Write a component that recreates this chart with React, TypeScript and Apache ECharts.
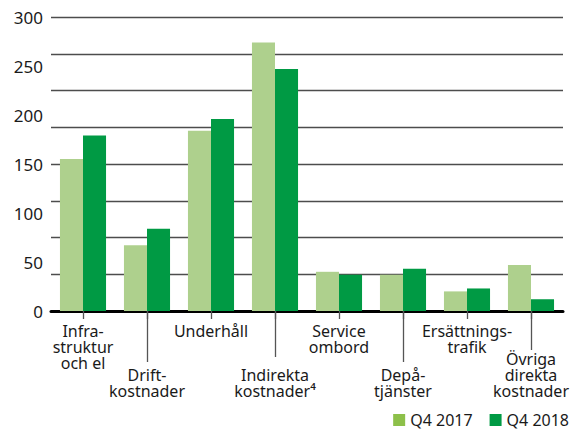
import React, { useEffect, useRef } from "react";
import * as echarts from "echarts";

const categories = [
  "Infra-\nstruktur\noch el",
  "Drift-\nkostnader",
  "Underhåll",
  "Indirekta\nkostnader⁴",
  "Service\nombord",
  "Depå-\ntjänster",
  "Ersättnings-\ntrafik",
  "Övriga\ndirekta\nkostnader",
];
const q2017 = [155, 67, 184, 274, 40, 37, 20, 47];
const q2018 = [179, 84, 196, 247, 37, 43, 23, 12];
const seriesNames = ["Q4 2017", "Q4 2018"];
const yLabelMin = 0;
const yLabelMax = 300;
const yLabelStep = 50;
const gridStep = 37.5;
// leader line lengths for the lower-row labels (index -> length in px)
const leaderIdx = [1, 3, 5, 7];
const leaderLen = [51, 46, 51, 39];

const FONT = "Noto Sans";
const TEXT = "#1a1a1a";
const LIGHT = "#AED08D";
const DARK = "#009A44";
const LEGEND_LIGHT = "#8DC04A";

export default function App() {
  const ref = useRef<HTMLDivElement>(null);
  useEffect(() => {
    if (!ref.current) return;
    const chart = echarts.init(ref.current, undefined, { renderer: "svg" });
    const leaderAxes = leaderIdx.map((idx, k) => ({
      type: "category",
      data: categories,
      position: "bottom",
      axisLine: { show: false },
      axisTick: {
        show: true,
        alignWithLabel: true,
        length: leaderLen[k],
        interval: (i: number) => i === idx,
        lineStyle: { color: "#555", width: 1.3 },
      },
      axisLabel: { show: false },
      splitLine: { show: false },
    }));
    chart.setOption({
      animation: false,
      textStyle: { fontFamily: FONT },
      grid: { left: 51, right: 13, top: 17, bottom: 121, containLabel: false },
      legend: {
        right: 0,
        top: 407,
        padding: [5, 7, 0, 5],
        itemWidth: 12,
        itemHeight: 12,
        itemGap: 17,
        icon: "rect",
        textStyle: { fontFamily: FONT, fontSize: 16, lineHeight: 16, color: TEXT },
        data: [
          { name: seriesNames[0], itemStyle: { color: LEGEND_LIGHT } },
          { name: seriesNames[1], itemStyle: { color: DARK } },
        ],
      },
      xAxis: [
        {
          type: "category",
          data: categories,
          position: "bottom",
          axisLine: { show: true, onZero: false, lineStyle: { color: "#000", width: 3 } },
          axisTick: {
            show: true,
            alignWithLabel: true,
            length: 8,
            interval: 0,
            lineStyle: { color: "#555", width: 1.3 },
          },
          axisLabel: {
            interval: (i: number) => i % 2 === 0,
            margin: 12,
            fontFamily: FONT,
            fontSize: 16,
            lineHeight: 16,
            color: TEXT,
            align: "center",
          },
          splitLine: { show: false },
        },
        {
          type: "category",
          data: categories,
          position: "bottom",
          axisLine: { show: false },
          axisTick: { show: false },
          axisLabel: {
            interval: (i: number) => i % 2 === 1,
            margin: 88,
            verticalAlign: "bottom",
            fontFamily: FONT,
            fontSize: 16,
            lineHeight: 16,
            color: TEXT,
            align: "center",
          },
          splitLine: { show: false },
        },
        ...leaderAxes,
      ],
      yAxis: [
        {
          type: "value",
          min: yLabelMin,
          max: yLabelMax,
          interval: yLabelStep,
          axisLine: { show: false },
          axisTick: { show: false },
          splitLine: { show: false },
          axisLabel: { fontFamily: FONT, fontSize: 17, color: TEXT, margin: 8 },
        },
        {
          type: "value",
          min: yLabelMin,
          max: yLabelMax,
          interval: gridStep,
          axisLine: { show: false },
          axisTick: { show: false },
          axisLabel: { show: false },
          splitLine: { show: true, lineStyle: { color: "#4d4d4d", width: 1.3 } },
        },
      ],
      series: [
        {
          name: seriesNames[0],
          type: "bar",
          xAxisIndex: 0,
          yAxisIndex: 0,
          data: q2017,
          itemStyle: { color: LIGHT },
          barGap: "0%",
          barCategoryGap: "28%",
          z: 3,
        },
        {
          name: seriesNames[1],
          type: "bar",
          xAxisIndex: 0,
          yAxisIndex: 0,
          data: q2018,
          itemStyle: { color: DARK },
          barGap: "0%",
          barCategoryGap: "28%",
          z: 3,
        },
      ],
    });
    return () => chart.dispose();
  }, []);
  return (
    <div
      ref={ref}
      style={{ position: "fixed", left: 0, top: 0, width: 576, height: 432, background: "#fff" }}
    />
  );
}
